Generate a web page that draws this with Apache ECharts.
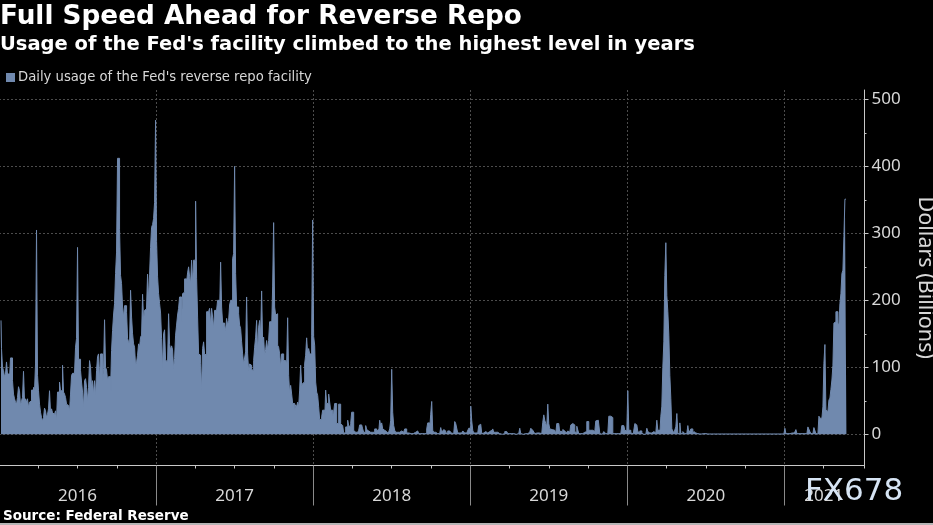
<!DOCTYPE html>
<html><head><meta charset="utf-8">
<style>html,body{margin:0;padding:0;background:#000}#c{width:933px;height:525px}</style>
<script src="https://cdn.jsdelivr.net/npm/echarts@6/dist/echarts.min.js"></script>
</head><body><div id="c"></div>
<script>
const seriesName = "Daily usage of the Fed's reverse repo facility";
const samplesPerYear = 157;
const sampleOffset = 2;
const y2016 = [170,128,100,95,86,90,108,90,90,83,
114,114,80,60,53,48,45,55,71,65,
43,50,55,94,50,53,48,53,40,48,
50,66,66,70,65,105,305,88,65,45,
33,25,20,25,39,35,25,30,38,65,
33,38,32,33,30,35,21,63,63,78,
65,65,103,63,60,55,45,43,45,35,
60,88,91,91,92,130,143,279,112,112,
95,78,63,40,80,83,70,50,70,110,
100,70,80,60,80,58,95,116,120,80,
120,120,81,98,171,100,96,81,86,86,
65,125,155,178,195,240,272,412,412,306,
237,225,190,175,192,192,182,143,138,135,
215,175,150,135,130,103,108,118,135,130,
145,148,209,170,185,187,190,239,200,239,
279,309,313,322,346,469,288];
const y2017 = [235,210,195,181,143,98,150,
156,111,110,108,180,134,126,132,126,98,
113,148,163,178,188,205,205,168,210,212,
232,232,227,241,250,235,225,260,225,260,
260,348,233,175,120,118,106,66,128,138,
120,118,183,183,185,188,163,188,175,158,
185,185,185,200,200,183,257,190,166,166,
163,155,173,163,170,193,200,200,262,270,
400,240,190,190,180,163,158,138,120,105,
106,123,205,120,95,105,103,97,95,110,
130,145,170,123,160,170,146,214,136,145,
118,126,140,126,140,168,168,158,220,316,
190,178,180,133,130,120,100,120,120,110,
110,112,105,174,88,61,73,60,46,46,
36,44,41,48,41,66,103,73,76,78,
105,118,144,120,128,120,120,148,320,146];
const y2018 = [133,78,63,58,41,22,22,26,36,36,
22,66,46,46,60,48,36,36,28,33,
46,46,16,16,45,45,16,15,13,2,
2,11,11,21,13,11,16,33,33,6,
5,3,4,3,6,14,14,12,8,3,
3,13,7,6,5,4,3,2,3,3,
8,8,5,7,3,21,13,17,8,6,
5,4,2,1,1,8,21,97,33,13,
6,3,3,2,3,5,5,3,3,3,
8,8,2,2,1,1,1,1,1,3,
3,1,5,3,1,1,1,1,1,1,
1,1,8,17,17,8,30,49,6,3,
3,2,2,1,1,2,10,3,4,7,
5,2,2,5,5,3,2,2,1,1,
19,16,15,2,2,3,3,2,5,6,
2,2,2,1,9,9,42];
const y2019 = [20,6,2,2,2,2,2,13,15,
15,1,0,2,4,2,2,1,4,2,
6,3,8,3,3,3,3,3,1,1,
0,0,1,1,4,4,4,1,0,1,
1,1,1,1,0,0,1,1,3,9,
1,0,0,0,1,0,1,1,2,3,
9,8,6,5,1,2,2,2,2,2,
1,0,18,29,21,16,11,45,16,8,
7,7,6,6,5,1,16,16,15,2,
5,3,7,5,3,2,1,5,3,2,
14,16,15,14,4,2,12,11,1,0,
1,1,3,3,2,4,19,19,6,5,
6,5,6,4,2,20,21,21,20,1,
0,0,2,4,3,1,1,1,27,27,
26,25,1,1,1,0,1,1,1,1,
1,13,13,13,6,7,5,65];
const y2020 = [6,6,2,1,1,0,16,15,14,4,
2,5,5,2,1,0,0,0,9,4,
2,2,1,2,3,4,2,1,21,6,
6,1,27,42,100,138,237,286,207,183,
148,88,53,8,7,2,1,11,31,1,
1,17,1,1,4,3,1,1,1,13,
2,1,8,8,1,4,2,3,1,1,
2,.5,.5,3,1,1,2,1,.5,.5,
.5,.5,.5,.5,.5,.5,.5,.5,.5,.5,
.5,.5,.5,.5,.5,.5,.5,.5,.5,.5,
.5,.5,.5,.5,.5,.5,.5,.5,.5,.5,
.5,.5,.5,.5,.5,.5,.5,2,
.5,.5,.5,.5,.5,.5,.5,.5,.5,.5,
.5,.5,.5,.5,.5,.5,.5,.5,.5,.5,.5,3,
.5,.5,.5,.5,.5,.5,.5,.5,.5,.5,.5,.5,.5,.5,.5,1,9];
const y2021 = [1,1,1,1,1,2,2,2,2,2,
7,1,1,1,1,1,1,1,1,1,
1,1,11,12,4,1,2,1,10,9,
1,.5,.5,27,24,24,22,41,106,134,
36,35,34,51,54,67,81,103,166,168,
183,183,166,163,195,210,240,245,295,351,351];
const usageByYear = [[2016,y2016],[2017,y2017],[2018,y2018],[2019,y2019],[2020,y2020],[2021,y2021]];
const yearBoundaries = [2017,2018,2019,2020,2021];
const quarterTicks = [2016.25,2016.5,2016.75,2017,2017.25,2017.5,2017.75,2018,2018.25,2018.5,2018.75,2019,2019.25,2019.5,2019.75,2020,2020.25,2020.5,2020.75,2021,2021.25,2021.51];
const yearLabelAt = [2016.5,2017.5,2018.5,2019.5,2020.5,2021.25];
const yMajor = [0,100,200,300,400,500];
const yMinor = [50,150,250,350,450];

const points = [];
usageByYear.forEach(([yr, vals]) => vals.forEach((v,i) => points.push([yr + (i+sampleOffset)/samplesPerYear, v])));

const blue = '#7089ae', axisCol = '#c8c8c8', gridCol = '#4c4c4c', txt = '#d8d8d8';
const font = '"DejaVu Sans"', axisFont = '"Noto Sans"';
const chart = echarts.init(document.getElementById('c'), null, {renderer:'canvas'});
chart.setOption({
  animation:false,
  backgroundColor:'#000',
  title:[
    {text:'Full Speed Ahead for Reverse Repo',left:0,top:4,padding:0,textStyle:{color:'#fff',fontFamily:font,fontWeight:'bold',fontSize:26.3}},
    {text:"Usage of the Fed's facility climbed to the highest level in years",left:0,top:35,padding:0,textStyle:{color:'#fff',fontFamily:font,fontWeight:'bold',fontSize:19.5}},
    {text:'Source: Federal Reserve',left:3,top:509,padding:0,textStyle:{color:'#fff',fontFamily:font,fontWeight:'bold',fontSize:13.5}}
  ],
  legend:{show:true,left:6,top:71,padding:0,itemWidth:9,itemHeight:9,itemGap:4,icon:'rect',
    textStyle:{color:txt,fontFamily:font,fontSize:13.2,padding:[0,0,0,-2]},data:[seriesName]},
  grid:{left:-1,right:68.5,top:90,bottom:59.5,containLabel:false,outerBoundsMode:'none'},
  xAxis:[{type:'value',min:2016,max:2021.51,position:'bottom',
      axisLine:{show:true,onZero:false,lineStyle:{color:axisCol,width:1}},
      axisTick:{show:true,length:3,customValues:quarterTicks,lineStyle:{color:axisCol}},
      axisLabel:{show:true,customValues:yearLabelAt,margin:22,color:txt,fontFamily:axisFont,fontSize:17,showMinLabel:true,showMaxLabel:true,
        formatter:v=>String(Math.floor(v))},
      splitLine:{show:false}},
    {type:'value',min:2016,max:2021.51,position:'bottom',
      axisLine:{show:false,onZero:false},
      axisTick:{show:true,length:40,customValues:yearBoundaries,lineStyle:{color:'#8a8a8a'}},
      axisLabel:{show:false},
      splitLine:{show:true,lineStyle:{color:gridCol,type:[2,2],width:1}}}],
  yAxis:[{type:'value',min:-46.6,max:514,position:'right',
      axisLine:{show:true,onZero:false,lineStyle:{color:axisCol,width:1}},
      axisTick:{show:true,length:4,customValues:yMajor,lineStyle:{color:axisCol}},
      axisLabel:{show:true,customValues:yMajor,margin:7,color:txt,fontFamily:axisFont,fontSize:17,padding:[8,0,0,0]},
      splitLine:{show:true,lineStyle:{color:gridCol,type:[2,2],width:1}},
      name:'Dollars (Billions)',nameLocation:'middle',nameRotate:-90,nameGap:50,
      nameTextStyle:{color:txt,fontFamily:axisFont,fontSize:21.5}},
    {type:'value',min:-46.6,max:514,position:'right',
      axisLine:{show:false,onZero:false},
      axisTick:{show:true,length:2,customValues:yMinor,lineStyle:{color:axisCol}},
      axisLabel:{show:false},splitLine:{show:false}}],
  series:[{name:seriesName,type:'line',xAxisIndex:0,yAxisIndex:0,data:points,step:'middle',
    showSymbol:false,symbol:'none',sampling:false,clip:true,
    itemStyle:{color:blue},lineStyle:{color:blue,width:1},areaStyle:{color:blue,opacity:1,origin:0}}],
  graphic:[
    {type:'rect',left:0,top:523,shape:{width:933,height:2},style:{fill:'#b5b5b5'},silent:true},
    {type:'text',left:805,top:476,z:100,silent:true,style:{text:'FX678',fill:'#d6e4f4',font:'31px "DejaVu Sans"'}}
  ]
});
</script></body></html>
